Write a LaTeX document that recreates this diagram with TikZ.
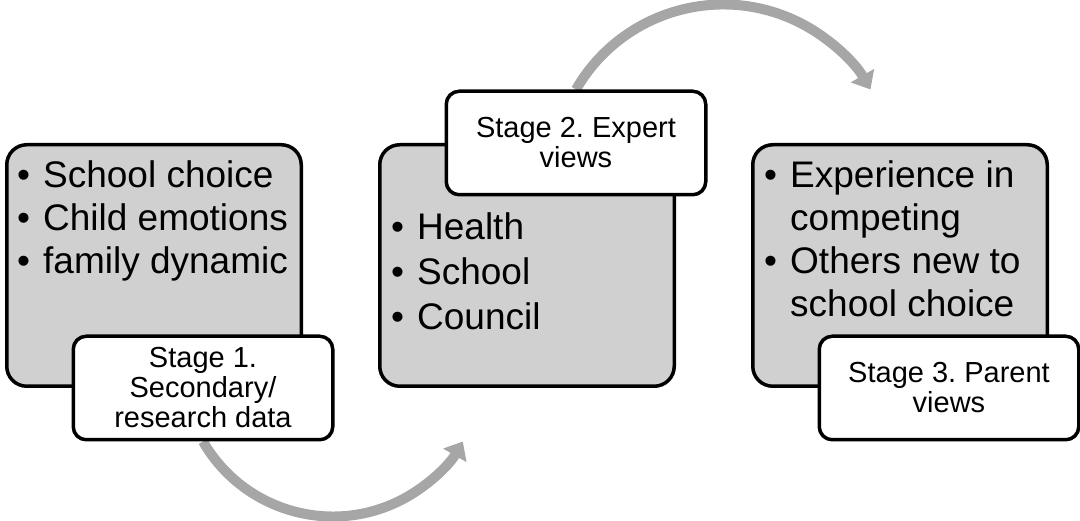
\documentclass[tikz,border=0pt]{standalone}
\usepackage{fontspec}
\setmainfont{Liberation Sans}
\usetikzlibrary{arrows.meta, positioning, backgrounds}
\frenchspacing

\definecolor{boxgray}{HTML}{D0D0D0}
\definecolor{arrowgray}{HTML}{A6A6A6}
\newcommand{\bl}{\makebox[26pt][l]{•}}

\begin{document}
\begin{tikzpicture}[x=1pt,y=1pt,node distance=75pt,
  topic box/.style={draw,line width=3.5pt,rounded corners=20pt,fill=boxgray,
    minimum width=294.5pt,minimum height=241.5pt},
  stage label/.style={draw,line width=3.5pt,rounded corners=13pt,fill=white,
    minimum width=259.5pt,minimum height=103.5pt,align=center,
    font=\fontsize{29}{30}\selectfont},
  topic list/.style={inner sep=0pt,anchor=base west,font=\fontsize{37}{43}\selectfont},
  loop arrow/.style={draw=arrowgray,line width=10pt,-{Triangle[width=26pt,length=16pt]}}]
  \useasboundingbox (0,0) rectangle (1080,521);
  \node[topic box] (box1) at (154,255.5) {};
  \node[topic box] (box2) [right=of box1] {};
  \node[topic box] (box3) [right=of box2] {};
  \node[stage label] (lab1) at ([xshift=-100pt]box1.south east) {Stage 1.\\Secondary/\\research data};
  \node[stage label] (lab2) at ([xshift=-100pt]box2.north east) {Stage 2. Expert\\views};
  \node[stage label] (lab3) at ([xshift=-100pt]box3.south east) {Stage 3. Parent\\views};
  \node[topic list] (list1) at ([shift={(12pt,-45pt)}]box1.north west)
    {\begin{tabular}[t]{@{}l@{}l@{}}\bl&School choice\\\bl&Child emotions\\\bl&family dynamic\end{tabular}};
  \node[topic list] (list2) at ([shift={(13pt,-97pt)}]box2.north west)
    {\begin{tabular}[t]{@{}l@{}l@{}}\bl&Health\\[2pt]\bl&School\\[2pt]\bl&Council\end{tabular}};
  \node[topic list] (list3) at ([shift={(13pt,-45pt)}]box3.north west)
    {\begin{tabular}[t]{@{}l@{}l@{}}\bl&Experience in\\&competing\\\bl&Others new to\\&school choice\end{tabular}};
  \begin{scope}[on background layer]
    \draw[loop arrow] (lab1.south) arc[start angle=210,end angle=330,radius=150];
    \draw[loop arrow] (lab2.north) arc[start angle=150,end angle=30,radius=170];
  \end{scope}
\end{tikzpicture}
\end{document}
